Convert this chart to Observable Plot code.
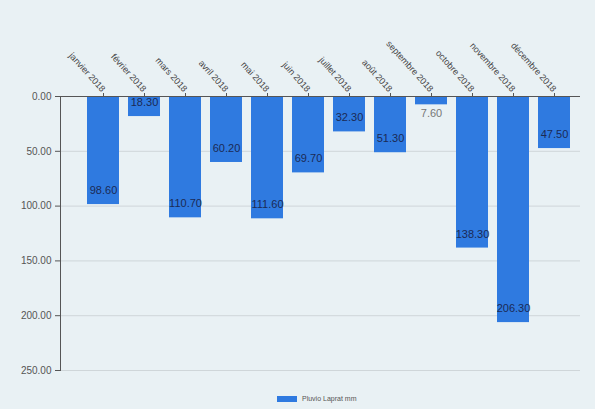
<!DOCTYPE html>
<html><head><meta charset="utf-8">
<script src="https://cdn.jsdelivr.net/npm/d3@7"></script>
<script src="https://cdn.jsdelivr.net/npm/@observablehq/plot@0.6"></script>
<style>
body{margin:0;background:#e9f1f4;font-family:"Liberation Sans",Arial,sans-serif;}
#legend{height:21px;display:flex;justify-content:flex-start;align-items:center;font-size:7px;color:#555;padding-left:277px;}
#legend span.sw{display:inline-block;width:20px;height:6px;background:#2f7ae0;margin-right:5px;}
</style></head>
<body>
<div id="chart"></div>
<div id="legend"><span class="sw"></span><span>Pluvio Laprat mm</span></div>
<script>
const months = ["janvier 2018","février 2018","mars 2018","avril 2018","mai 2018","juin 2018","juillet 2018","août 2018","septembre 2018","octobre 2018","novembre 2018","décembre 2018"];
const values = [98.60,18.30,110.70,60.20,111.60,69.70,32.30,51.30,7.60,138.30,206.30,47.50];
const yTicks = [0,50,100,150,200,250];
const seriesName = "Pluvio Laprat mm";

const data = months.map((m,i)=>({month:m, value:values[i]}));
const fmt = d3.format(".2f");

const plot = Plot.plot({
  width:595, height:388,
  marginTop:96, marginLeft:60, marginRight:15, marginBottom:18,
  style:{background:"transparent", fontFamily:"Liberation Sans, Arial, sans-serif"},
  x:{domain:months, range:[80.4,576], paddingInner:0.22, paddingOuter:0.11, align:0.5},
  y:{domain:[0,250], range:[96,370]},
  marks:[
    Plot.gridY(yTicks,{stroke:"#cfd6d9", strokeOpacity:1}),
    Plot.frame({anchor:"left", stroke:"#555"}),
    Plot.barY(data,{x:"month", y:"value", fill:"#2f7ae0"}),
    Plot.ruleY([0],{stroke:"#555"}),
    Plot.axisY(yTicks,{tickFormat:fmt, tickSize:5, fontSize:10, fill:"#555", stroke:"#555", label:null}),
    Plot.axisX({anchor:"top", tickSize:4, tickRotate:48, fontSize:9, fill:"#444", stroke:"#555", label:null, tickPadding:2}),
    Plot.text(data.filter(d=>d.value>=15),{x:"month", y:"value", text:d=>fmt(d.value), dy:-14, fill:"#1b2a55", fontSize:11}),
    Plot.text(data.filter(d=>d.value<15),{x:"month", y:"value", text:d=>fmt(d.value), dy:9, fill:"#777", fontSize:11})
  ]
});
document.getElementById("chart").appendChild(plot);
</script>
</body></html>
